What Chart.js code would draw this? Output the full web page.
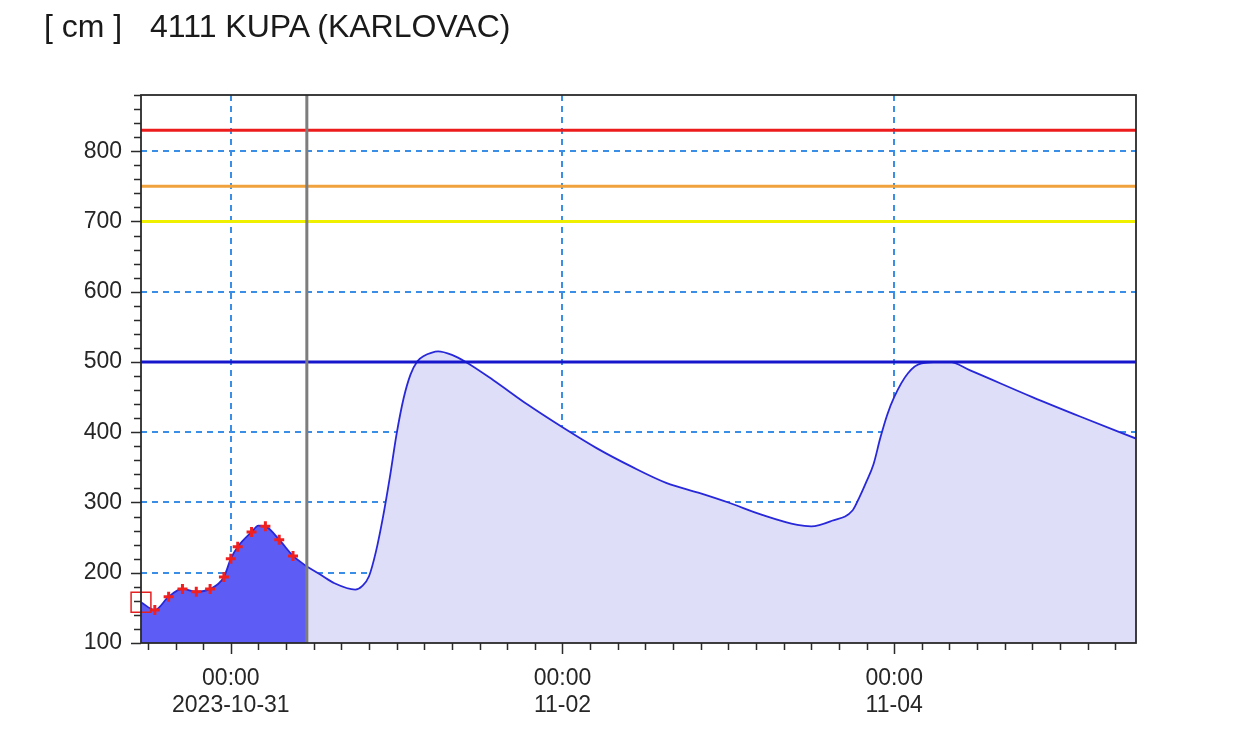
<!DOCTYPE html>
<html><head><meta charset="utf-8">
<script src="https://cdn.jsdelivr.net/npm/chart.js@4.4.0/dist/chart.umd.min.js"></script>
<style>
html,body{margin:0;padding:0;background:#fff;}
#wrap{position:relative;width:1260px;height:745px;overflow:hidden;}
canvas{position:absolute;left:0;top:0;}
.t{position:absolute;top:10px;font-family:"Liberation Sans",Arial,sans-serif;font-size:32px;line-height:32px;color:#1a1a1a;white-space:pre;}
</style></head><body>
<div id="wrap"><canvas id="c" width="1260" height="745"></canvas>
<span class="t" id="unit" style="left:44px"></span><span class="t" id="station" style="left:150px"></span></div>
<script>
const unitLabel = '[ cm ]';
const stationName = '4111 KUPA (KARLOVAC)';
// hours relative to 2023-10-31 00:00
const obsHours  = [-13,-11,-9,-7,-5,-3,-1,0,1,3,4,5,7,9,11];
const obsLevel  = [158,147,166,177,173,177,194,220,237,258,267,266,247,224,209];
const obsMarked = [0,1,1,1,1,1,1,1,1,1,0,1,1,1,0];
const fcHours = [11,13,15,18,19,20,21,22,23,24,25,26,27,28,29,30,32,34,38,43,48,53,58,63,68,72,77,82,84,87,90,91,92,93,94,95,96,98,100,104,107,116,123,131];
const fcLevel = [209,197,185,176,181,195,230,278,335,398,448,482,501,509,513,515,510,500,474,439,407,377,351,328,313,300,282,268,266,274,289,308,330,354,392,425,450,484,498,500,488,450,422,391];
const thresholdLevels = [830,750,700,500];
const nowHour = 11;
const xStart = -13, xEnd = 131;
const yMin = 100, yMax = 880;
const xLabelHours = [0,48,96];
const xLabelTimes = ['00:00','00:00','00:00'];
const xLabelDates = ['2023-10-31','11-02','11-04'];

document.getElementById('unit').textContent = unitLabel;
document.getElementById('station').textContent = stationName;

const FONT = '"Liberation Sans", Arial, sans-serif';
const gridBlue = '#3a8ee6';
const lineBlue = '#2828d8';
const thresholdColors = ['#ec1c1c','#f0a23c','#eef000','#1616cc'];
const none = 'rgba(0,0,0,0)';

const thresholdSets = thresholdLevels.map((v,i)=>({
  data:[{x:xStart,y:v},{x:xEnd,y:v}],
  borderColor: thresholdColors[i], borderWidth: 3, pointRadius:0, fill:false, order:2
}));

const frame = {
  id:'frame',
  afterDraw(chart){
    const {ctx, chartArea:a, scales:{x,y}} = chart;
    ctx.save();
    const nx = x.getPixelForValue(nowHour);
    ctx.strokeStyle='#7d7d7d'; ctx.lineWidth=3;
    ctx.beginPath(); ctx.moveTo(nx,a.top); ctx.lineTo(nx,a.bottom); ctx.stroke();
    ctx.strokeStyle='#2a2a2a'; ctx.lineWidth=1.8;
    ctx.strokeRect(a.left,a.top,a.right-a.left,a.bottom-a.top);
    ctx.lineWidth=1.5;
    ctx.beginPath();
    y.ticks.forEach(t=>{
      const py=Math.round(y.getPixelForValue(t.value))+0.5;
      const len = t.value%100===0?10:7;
      ctx.moveTo(a.left-len,py); ctx.lineTo(a.left,py);
    });
    x.ticks.forEach(t=>{
      const px=Math.round(x.getPixelForValue(t.value))+0.5;
      const len = xLabelHours.includes(t.value)?11:7;
      ctx.moveTo(px,a.bottom); ctx.lineTo(px,a.bottom+len);
    });
    ctx.stroke();
    ctx.restore();
  }
};

new Chart(document.getElementById('c'), {
  type:'line',
  data:{datasets:[
    {data:[{x:xStart,y:obsLevel[0]}], pointStyle:'rect', pointRadius:14, pointBorderColor:'#e42020',
     pointBorderWidth:1.5, pointBackgroundColor:none, showLine:false, clip:false, order:0},
    {data: obsHours.map((h,i)=>({x:h,y:obsLevel[i]})), borderColor: lineBlue, borderWidth:1.8,
     backgroundColor:'#5d5df5', fill:'start', cubicInterpolationMode:'monotone',
     pointStyle:'cross', pointRadius: obsMarked.map(m=>m?5:0), pointBorderColor:'#f02020',
     pointBorderWidth:3, order:1},
    ...thresholdSets,
    {data: fcHours.map((h,i)=>({x:h,y:fcLevel[i]})), borderColor: lineBlue, borderWidth:1.8,
     backgroundColor:'#dedef9', fill:'start', cubicInterpolationMode:'monotone', pointRadius:0, order:5}
  ]},
  options:{
    responsive:false, animation:false, devicePixelRatio:1,
    layout:{padding:{left:0,top:95,right:124,bottom:0}},
    plugins:{legend:{display:false}, tooltip:{enabled:false}},
    events:[],
    scales:{
      x:{type:'linear', min:xStart, max:xEnd, z:1,
        afterFit:s=>{s.height=102;},
        afterBuildTicks:s=>{const t=[]; for(let v=Math.ceil(xStart/4)*4; v<=xEnd; v+=4) t.push({value:v}); s.ticks=t;},
        grid:{color:c=>xLabelHours.includes(c.tick && c.tick.value)?gridBlue:none, lineWidth:2, drawTicks:true, tickLength:10, tickColor:none},
        border:{display:false, dash:[6,5]},
        ticks:{autoSkip:false, maxRotation:0, padding:12, color:'#262626', font:{family:FONT, size:23, lineHeight:1.17},
          callback:v=>{const i=xLabelHours.indexOf(v); return i>=0?[xLabelTimes[i], xLabelDates[i]]:'';}}
      },
      y:{type:'linear', min:yMin, max:yMax, z:1,
        afterFit:s=>{s.width=141;},
        afterBuildTicks:s=>{const t=[]; for(let v=yMin; v<=yMax; v+=20) t.push({value:v}); s.ticks=t;},
        grid:{color:c=>{const v=c.tick && c.tick.value; return (v%100===0 && v>yMin && v<yMax)?gridBlue:none;}, lineWidth:2, drawTicks:true, tickLength:10, tickColor:none},
        border:{display:false, dash:[6,5]},
        ticks:{autoSkip:false, padding:9, color:'#262626', font:{family:FONT, size:23},
          callback:v=>(v%100===0 && v<yMax)?String(v):''}
      }
    }
  },
  plugins:[frame]
});
</script>
</body></html>
